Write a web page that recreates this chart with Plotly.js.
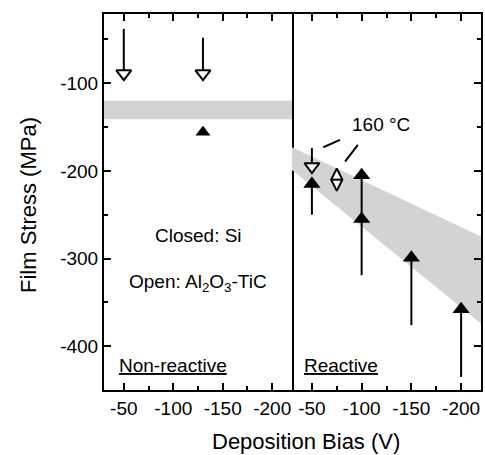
<!DOCTYPE html>
<html>
<head>
<meta charset="utf-8">
<script src="https://cdn.plot.ly/plotly-3.0.1.min.js"></script>
<style>
  html, body { margin: 0; padding: 0; background: #fff; }
  #chart { width: 485px; height: 455px; }
</style>
</head>
<body>
<div id="chart"></div>
<script>
// Film stress vs. deposition bias, non-reactive (left) and reactive (right) sputtering

// Shaded trend bands (x = bias in V, y = stress in MPa)
const bandNonReactiveX = [-30, -220, -220, -30];
const bandNonReactiveY = [-120, -120, -141, -141];
const bandReactiveX = [-30, -220, -220, -30];
const bandReactiveY = [-173, -275, -374, -199];

// Non-reactive: open = Al2O3-TiC substrate, closed = Si substrate
const nrOpenBias = [-50, -130];
const nrOpenStress = [-89, -89];
const nrOpenErrUp = [51, 41];
const nrClosedBias = [-130];
const nrClosedStress = [-156];

// Reactive
const rOpenBias = [-50];
const rOpenStress = [-195];
const rOpenErrUp = [21];
const rClosedBias = [-50, -100, -100, -150, -200];
const rClosedStress = [-215, -205, -255, -299, -358];
const rClosedErrDown = [35, 50, 64, 77, 77];
// 160 °C deposition
const rHotBias = [-75];
const rHotStress = [-210];

const xTickVals = [-50, -100, -150, -200];
const yTickVals = [-100, -200, -300, -400];

const FONT = 'Liberation Sans, Arial, Helvetica, sans-serif';
const GREY = '#d3d3d3';

const zeros = n => new Array(n).fill(0);

const traces = [
  {
    x: bandNonReactiveX, y: bandNonReactiveY, xaxis: 'x', yaxis: 'y',
    type: 'scatter', mode: 'lines', fill: 'toself', fillcolor: GREY,
    line: { width: 0, color: GREY }, hoverinfo: 'skip'
  },
  {
    x: bandReactiveX, y: bandReactiveY, xaxis: 'x2', yaxis: 'y2',
    type: 'scatter', mode: 'lines', fill: 'toself', fillcolor: GREY,
    line: { width: 0, color: GREY }, hoverinfo: 'skip'
  },
  {
    x: nrOpenBias, y: nrOpenStress, xaxis: 'x', yaxis: 'y',
    type: 'scatter', mode: 'markers',
    marker: { symbol: 'triangle-down', size: 13, color: '#fff', line: { color: '#000', width: 2 } },
    error_y: { type: 'data', symmetric: false, array: nrOpenErrUp, arrayminus: zeros(nrOpenErrUp.length),
               width: 0, thickness: 2, color: '#000' }
  },
  {
    x: nrClosedBias, y: nrClosedStress, xaxis: 'x', yaxis: 'y',
    type: 'scatter', mode: 'markers',
    marker: { symbol: 'triangle-up', size: 13, color: '#000', line: { width: 0 } }
  },
  {
    x: rClosedBias, y: rClosedStress, xaxis: 'x2', yaxis: 'y2',
    type: 'scatter', mode: 'markers',
    marker: { symbol: 'triangle-up', size: 15, color: '#000', line: { width: 0 } },
    error_y: { type: 'data', symmetric: false, array: zeros(rClosedErrDown.length), arrayminus: rClosedErrDown,
               width: 0, thickness: 2, color: '#000' }
  },
  {
    x: rOpenBias, y: rOpenStress, xaxis: 'x2', yaxis: 'y2',
    type: 'scatter', mode: 'markers',
    marker: { symbol: 'triangle-down', size: 13, color: '#fff', line: { color: '#000', width: 2 } },
    error_y: { type: 'data', symmetric: false, array: rOpenErrUp, arrayminus: zeros(rOpenErrUp.length),
               width: 0, thickness: 2, color: '#000' }
  },
  {
    x: rHotBias, y: rHotStress, xaxis: 'x2', yaxis: 'y2',
    type: 'scatter', mode: 'markers',
    marker: { symbol: 'diamond-tall', size: 16, color: '#fff', line: { color: '#000', width: 2 } }
  },
  {
    x: rHotBias, y: rHotStress, xaxis: 'x2', yaxis: 'y2',
    type: 'scatter', mode: 'markers',
    marker: { symbol: 'line-ew', size: 8, color: '#000', line: { color: '#000', width: 2 } }
  }
];

const split = 0.4987;

const xCommon = {
  range: [-30, -220], tickvals: xTickVals, ticktext: xTickVals.map(String),
  ticks: 'inside', ticklen: 7, tickwidth: 2, tickcolor: '#000',
  minor: { tickvals: [-75, -125, -175], ticks: 'inside', ticklen: 4, tickwidth: 2, tickcolor: '#000' },
  showline: true, linewidth: 2, linecolor: '#000', mirror: 'ticks',
  showgrid: false, zeroline: false, fixedrange: true,
  tickfont: { family: FONT, size: 19, color: '#000' }
};
const yCommon = {
  range: [-450, -21], tickvals: yTickVals, ticktext: yTickVals.map(String),
  ticks: 'inside', ticklen: 7, tickwidth: 2, tickcolor: '#000',
  minor: { tickvals: [-50, -150, -250, -350], ticks: 'inside', ticklen: 4, tickwidth: 2, tickcolor: '#000' },
  showline: true, linewidth: 2, linecolor: '#000',
  showgrid: false, zeroline: false, fixedrange: true,
  tickfont: { family: FONT, size: 19, color: '#000' }
};

const txt = { family: FONT, size: 19, color: '#000' };

const layout = {
  width: 485, height: 455,
  margin: { l: 104, r: 4, t: 14, b: 65, pad: 0 },
  paper_bgcolor: '#fff', plot_bgcolor: '#fff',
  showlegend: false,
  xaxis: Object.assign({}, xCommon, { domain: [0, split], anchor: 'y' }),
  xaxis2: Object.assign({}, xCommon, { domain: [split, 1], anchor: 'y2' }),
  // the left axis's mirror line is the single divider between the two panels
  yaxis: Object.assign({}, yCommon, { anchor: 'x', mirror: true }),
  yaxis2: Object.assign({}, yCommon, { anchor: 'x2', side: 'right', mirror: false, showticklabels: false }),
  shapes: [
    { type: 'line', xref: 'x2', yref: 'y2', x0: -61.4, y0: -173, x1: -78.3, y1: -164.7,
      line: { color: '#000', width: 2 } },
    { type: 'line', xref: 'x2', yref: 'y2', x0: -83.3, y0: -189.5, x1: -96.2, y1: -170.4,
      line: { color: '#000', width: 2 } }
  ],
  annotations: [
    { text: 'Closed: Si', xref: 'x domain', yref: 'y', x: 0.5, y: -274,
      xanchor: 'center', yanchor: 'middle', showarrow: false, font: txt },
    { text: 'Open: Al<sub>2</sub>O<sub>3</sub>-TiC', xref: 'x domain', yref: 'y', x: 0.5, y: -328,
      xanchor: 'center', yanchor: 'middle', showarrow: false, font: txt },
    { text: '<u>Non-reactive</u>', xref: 'x domain', yref: 'y', x: 0.069, y: -422,
      xanchor: 'left', yanchor: 'middle', showarrow: false, font: txt },
    { text: '<u>Reactive</u>', xref: 'x2 domain', yref: 'y2', x: 0.051, y: -422,
      xanchor: 'left', yanchor: 'middle', showarrow: false, font: txt },
    { text: '160 °C', xref: 'x2 domain', yref: 'y2', x: 0.307, y: -147.6,
      xanchor: 'left', yanchor: 'middle', showarrow: false, font: txt },
    { text: 'Deposition Bias (V)', xref: 'paper', yref: 'paper', x: 0.536, y: -0.136,
      xanchor: 'center', yanchor: 'middle', showarrow: false,
      font: { family: FONT, size: 22, color: '#000' } },
    { text: 'Film Stress (MPa)', xref: 'paper', yref: 'paper', x: -0.2016, y: 0.492,
      xanchor: 'center', yanchor: 'middle', textangle: -90, showarrow: false,
      font: { family: FONT, size: 22, color: '#000' } }
  ]
};

Plotly.newPlot('chart', traces, layout, { staticPlot: true, displayModeBar: false });
</script>
</body>
</html>
